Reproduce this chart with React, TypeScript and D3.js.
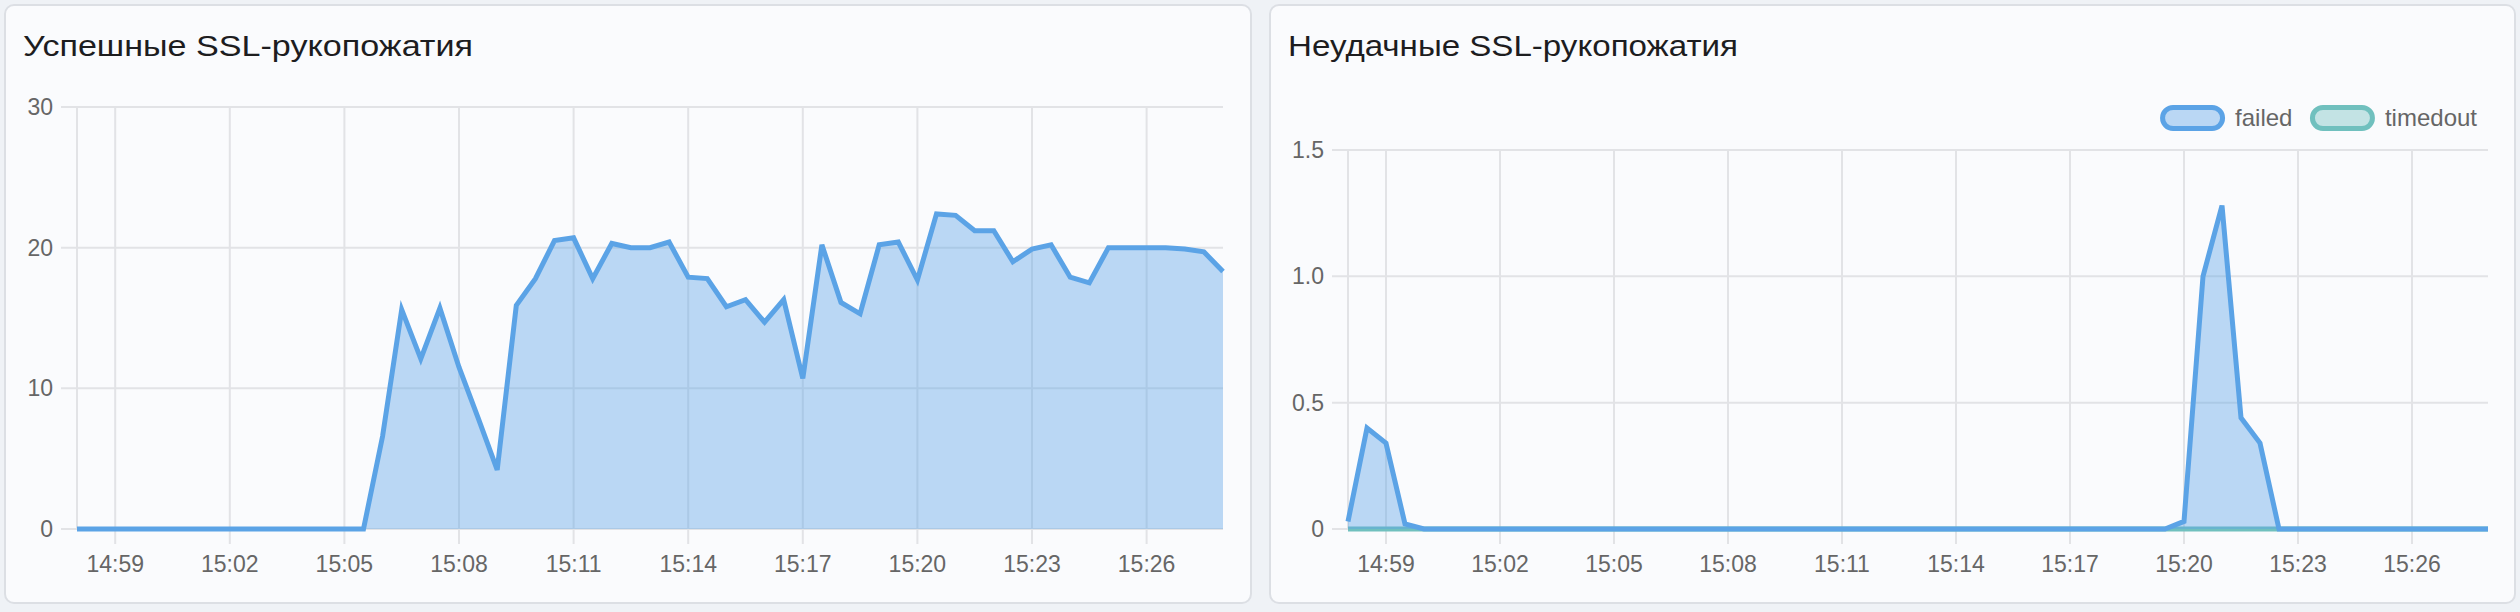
import React, { useEffect, useRef } from 'react';
import * as d3 from 'd3';

// samples every 30 s from 14:58:00 to 15:28:00
const startTime = new Date(2024, 0, 1, 14, 58, 0);
const endTime = new Date(2024, 0, 1, 15, 28, 0);
const stepSeconds = 30;

const xTickLabels = ['14:59', '15:02', '15:05', '15:08', '15:11', '15:14', '15:17', '15:20', '15:23', '15:26'];

const successValues = [
  0, 0, 0, 0, 0, 0, 0, 0, 0, 0, 0, 0, 0, 0, 0, 0,
  6.6, 15.6, 12.1, 15.7, 11.5, 7.9, 4.2, 15.9, 17.8, 20.5,
  20.7, 17.8, 20.3, 20.0, 20.0, 20.4, 17.9, 17.8, 15.8, 16.3,
  14.7, 16.3, 10.7, 20.2, 16.1, 15.3, 20.2, 20.4, 17.7, 22.4,
  22.3, 21.2, 21.2, 19.0, 19.9, 20.2, 17.9, 17.5, 20.0, 20.0,
  20.0, 20.0, 19.9, 19.7, 18.3,
];

const failedValues = [
  0.03, 0.4, 0.34, 0.02, 0, 0, 0, 0, 0, 0, 0, 0, 0, 0, 0, 0,
  0, 0, 0, 0, 0, 0, 0, 0, 0, 0, 0, 0, 0, 0, 0, 0,
  0, 0, 0, 0, 0, 0, 0, 0, 0, 0, 0, 0, 0.03, 1.0, 1.28, 0.44,
  0.34, 0, 0, 0, 0, 0, 0, 0, 0, 0, 0, 0, 0,
];

const timedoutValues = [
  0, 0, 0, 0, 0, 0, 0, 0, 0, 0, 0, 0, 0, 0, 0, 0,
  0, 0, 0, 0, 0, 0, 0, 0, 0, 0, 0, 0, 0, 0, 0, 0,
  0, 0, 0, 0, 0, 0, 0, 0, 0, 0, 0, 0, 0, 0, 0, 0,
  0, 0, 0, 0, 0, 0, 0, 0, 0, 0, 0, 0, 0,
];

const successTicks = [0, 10, 20, 30];
const failedTicks = [0, 0.5, 1.0, 1.5];

const BLUE = 'rgb(91,163,230)';
const BLUE_FILL = 'rgba(91,163,230,0.4)';
const TEAL = 'rgb(112,192,190)';
const TEAL_FILL = 'rgba(112,192,190,0.4)';
const GRID = '#e2e3e6';
const TICK_TEXT = '#666';
const FONT = '"Liberation Sans", Arial, Helvetica, sans-serif';

interface Series {
  name: string;
  values: number[];
  stroke: string;
  fill: string;
}

interface PanelOpts {
  x: number;
  w: number;
  title: string;
  plot: { left: number; right: number; top: number; bottom: number };
  yMax: number;
  yTicks: number[];
  yFormat: (v: number) => string;
  series: Series[];
  legend: boolean;
}

const parseHM = d3.timeParse('%H:%M');

function drawPanel(svg: d3.Selection<SVGSVGElement, unknown, null, undefined>, o: PanelOpts) {
  const g = svg.append('g');

  g.append('rect')
    .attr('x', o.x)
    .attr('y', 5)
    .attr('width', o.w)
    .attr('height', 598)
    .attr('rx', 9)
    .attr('fill', '#fafbfd')
    .attr('stroke', '#dcdfe4')
    .attr('stroke-width', 2);

  const title = g.append('text')
    .attr('x', o.x + 18)
    .attr('y', 56)
    .attr('font-family', FONT)
    .attr('font-size', 30)
    .attr('fill', '#1d1d1f')
    .text(o.title);
  // reference title spans ~450px
  const tw0 = (title.node() as SVGTextElement).getComputedTextLength();
  if (tw0 > 0) title.attr('textLength', 450).attr('lengthAdjust', 'spacingAndGlyphs');
  void tw0;

  const x = d3.scaleTime().domain([startTime, endTime]).range([o.plot.left, o.plot.right]);
  const y = d3.scaleLinear().domain([0, o.yMax]).range([o.plot.bottom, o.plot.top]);

  const tickDates = xTickLabels.map(l => {
    const t = parseHM(l)!;
    return new Date(2024, 0, 1, t.getHours(), t.getMinutes(), 0);
  });

  // horizontal grid + y ticks
  g.append('g')
    .selectAll('line')
    .data(o.yTicks)
    .enter()
    .append('line')
    .attr('x1', o.plot.left - 16)
    .attr('x2', o.plot.right)
    .attr('y1', d => y(d))
    .attr('y2', d => y(d))
    .attr('stroke', GRID)
    .attr('stroke-width', 2);

  g.append('g')
    .selectAll('text')
    .data(o.yTicks)
    .enter()
    .append('text')
    .attr('x', o.plot.left - 24)
    .attr('y', d => y(d))
    .attr('dy', '0.35em')
    .attr('text-anchor', 'end')
    .attr('font-family', FONT)
    .attr('font-size', 23)
    .attr('fill', TICK_TEXT)
    .text(d => o.yFormat(d));

  // left axis line
  g.append('line')
    .attr('x1', o.plot.left)
    .attr('x2', o.plot.left)
    .attr('y1', o.plot.top)
    .attr('y2', o.plot.bottom)
    .attr('stroke', GRID)
    .attr('stroke-width', 2);

  // vertical grid + x ticks
  g.append('g')
    .selectAll('line')
    .data(tickDates)
    .enter()
    .append('line')
    .attr('x1', d => x(d))
    .attr('x2', d => x(d))
    .attr('y1', o.plot.top)
    .attr('y2', o.plot.bottom + 15)
    .attr('stroke', GRID)
    .attr('stroke-width', 2);

  g.append('g')
    .selectAll('text')
    .data(tickDates)
    .enter()
    .append('text')
    .attr('x', d => x(d))
    .attr('y', o.plot.bottom + 43)
    .attr('text-anchor', 'middle')
    .attr('font-family', FONT)
    .attr('font-size', 23)
    .attr('fill', TICK_TEXT)
    .text((_, i) => xTickLabels[i]);

  // series: first series on top, so draw in reverse order
  [...o.series].reverse().forEach(s => {
    const pts = s.values.map((v, i) => ({ t: d3.timeSecond.offset(startTime, i * stepSeconds), v }));
    const area = d3.area<{ t: Date; v: number }>()
      .x(d => x(d.t))
      .y0(y(0))
      .y1(d => y(d.v));
    const line = d3.line<{ t: Date; v: number }>()
      .x(d => x(d.t))
      .y(d => y(d.v));
    g.append('path')
      .attr('d', area(pts) || '')
      .attr('fill', s.fill);
    g.append('path')
      .attr('d', line(pts) || '')
      .attr('fill', 'none')
      .attr('stroke', s.stroke)
      .attr('stroke-width', 5)
      .attr('stroke-linejoin', 'miter');
  });

  if (o.legend) {
    const boxW = 60;
    const boxH = 21;
    const ly = 107.5;
    const legendRight = 2477;
    const items = o.series.map(s => {
      const rect = g.append('rect')
        .attr('y', ly)
        .attr('width', boxW)
        .attr('height', boxH)
        .attr('rx', 10.5)
        .attr('fill', s.fill)
        .attr('stroke', s.stroke)
        .attr('stroke-width', 5);
      const txt = g.append('text')
        .attr('y', 126)
        .attr('font-family', FONT)
        .attr('font-size', 24)
        .attr('fill', TICK_TEXT)
        .text(s.name);
      const tw = (txt.node() as SVGTextElement).getComputedTextLength();
      return { rect, txt, tw };
    });
    const gap = 12.5;
    const itemGap = 20;
    const total = items.reduce((acc, it) => acc + boxW + gap + it.tw, 0) + itemGap * (items.length - 1);
    let lx = legendRight - total;
    items.forEach(it => {
      it.rect.attr('x', lx);
      it.txt.attr('x', lx + boxW + gap);
      lx += boxW + gap + it.tw + itemGap;
    });
  }
}

const App: React.FC = () => {
  const svgRef = useRef<SVGSVGElement>(null);

  useEffect(() => {
    document.body.style.margin = '0';
    if (!svgRef.current) return;
    const svg = d3.select(svgRef.current);
    svg.selectAll('*').remove();

    svg.append('rect')
      .attr('width', 2520)
      .attr('height', 612)
      .attr('fill', '#eff2f6');

    drawPanel(svg, {
      x: 5,
      w: 1246,
      title: 'Успешные SSL-рукопожатия',
      plot: { left: 77, right: 1223, top: 107, bottom: 529 },
      yMax: 30,
      yTicks: successTicks,
      yFormat: d => String(d),
      series: [{ name: 'success', values: successValues, stroke: BLUE, fill: BLUE_FILL }],
      legend: false,
    });

    drawPanel(svg, {
      x: 1270,
      w: 1245,
      title: 'Неудачные SSL-рукопожатия',
      plot: { left: 1348, right: 2488, top: 150, bottom: 529 },
      yMax: 1.5,
      yTicks: failedTicks,
      yFormat: d => (d === 0 ? '0' : d.toFixed(1)),
      series: [
        { name: 'failed', values: failedValues, stroke: BLUE, fill: BLUE_FILL },
        { name: 'timedout', values: timedoutValues, stroke: TEAL, fill: TEAL_FILL },
      ],
      legend: true,
    });
  }, []);

  return <svg ref={svgRef} width={2520} height={612} style={{ display: 'block' }} />;
};

export default App;
